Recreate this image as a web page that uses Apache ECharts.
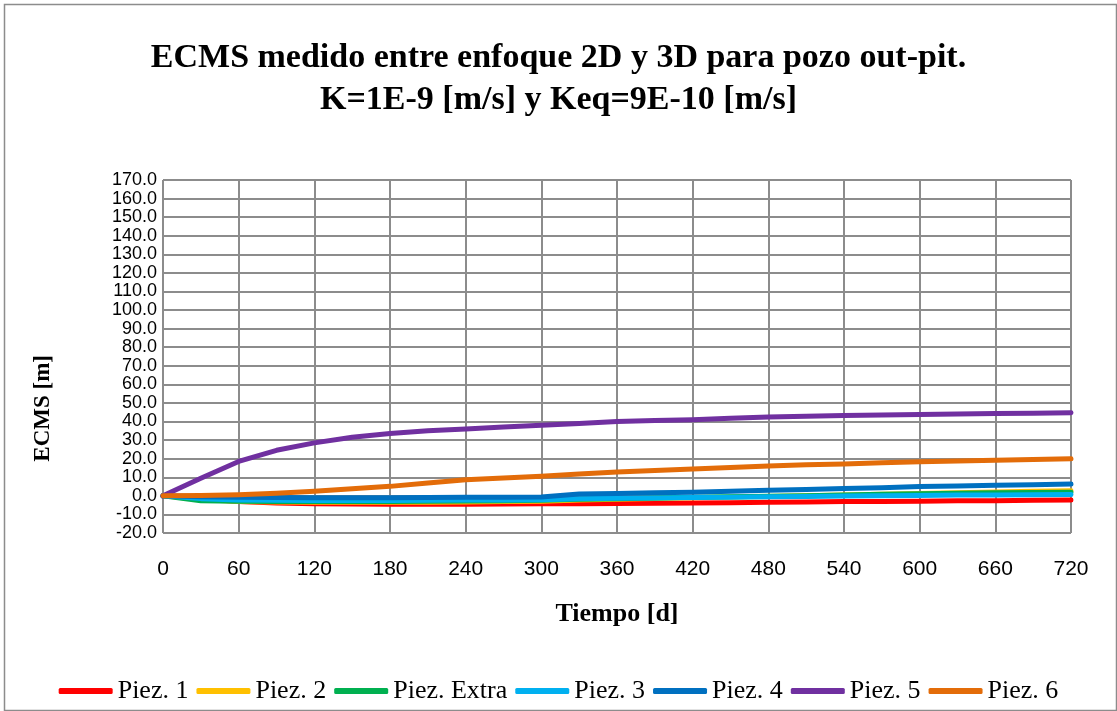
<!DOCTYPE html>
<html>
<head>
<meta charset="utf-8">
<script src="https://cdn.jsdelivr.net/npm/echarts@6/dist/echarts.min.js"></script>
<style>
  html, body { margin: 0; padding: 0; background: #fff; }
  #chart { width: 1117px; height: 711px; }
</style>
</head>
<body>
<div id="chart"></div>
<script>
// dias de simulacion
const dias = [0, 30, 60, 90, 120, 150, 180, 210, 240, 270, 300, 330, 360, 390, 420, 450, 480, 510, 540, 570, 600, 630, 660, 690, 720]

const piez1 = [0, -1.5, -3.0, -3.8, -4.2, -4.4, -4.5, -4.5, -4.5, -4.4, -4.3, -4.2, -4.1, -4.0, -3.9, -3.7, -3.5, -3.3, -3.1, -3.0, -2.9, -2.7, -2.6, -2.4, -2.3]
const piez2 = [0, -2.0, -3.0, -3.3, -3.5, -3.5, -3.5, -3.4, -3.3, -3.1, -2.9, -2.2, -1.8, -1.4, -1.0, -0.6, -0.3, 0.1, 0.5, 0.9, 1.3, 1.7, 2.1, 2.5, 2.8]
const piezExtra = [0, -2.7, -2.9, -3.0, -3.0, -3.0, -3.0, -2.9, -2.8, -2.6, -2.4, -1.8, -1.5, -1.1, -0.8, -0.5, -0.2, 0.1, 0.4, 0.8, 1.1, 1.4, 1.6, 1.8, 2.0]
const piez3 = [0, -1.5, -2.2, -2.4, -2.5, -2.5, -2.5, -2.4, -2.3, -2.2, -2.1, -1.5, -1.3, -1.1, -0.9, -0.7, -0.5, -0.3, -0.1, 0.1, 0.2, 0.4, 0.5, 0.6, 0.7]
const piez4 = [0, -0.5, -0.8, -0.9, -1.0, -1.0, -1.0, -0.9, -0.8, -0.7, -0.6, 1.0, 1.3, 1.7, 2.0, 2.5, 3.0, 3.4, 3.9, 4.4, 5.0, 5.3, 5.7, 6.0, 6.4]
const piez5 = [0, 9.5, 18.5, 24.5, 28.5, 31.5, 33.5, 35.0, 36.0, 37.0, 38.0, 39.0, 40.0, 40.5, 41.0, 41.8, 42.4, 42.8, 43.2, 43.5, 43.8, 44.0, 44.3, 44.5, 44.7]
const piez6 = [0, 0.2, 0.6, 1.4, 2.5, 3.8, 5.1, 6.9, 8.7, 9.6, 10.5, 11.7, 12.8, 13.7, 14.5, 15.3, 16.1, 16.7, 17.2, 17.8, 18.3, 18.7, 19.1, 19.5, 19.9]

const nombres = ['Piez. 1', 'Piez. 2', 'Piez. Extra', 'Piez. 3', 'Piez. 4', 'Piez. 5', 'Piez. 6']
const valores = [piez1, piez2, piezExtra, piez3, piez4, piez5, piez6]
const colores = ['#ff0000', '#ffc000', '#00b050', '#00b0f0', '#0070c0', '#7030a0', '#e36c09']

const serif = '"Liberation Serif", "Times New Roman", serif'
const sans = '"Liberation Sans", Arial, sans-serif'

const chart = echarts.init(document.getElementById('chart'))

const series = nombres.map((n, i) => ({
  name: n,
  type: 'line',
  showSymbol: false,
  symbol: 'none',
  lineStyle: { width: 5, color: colores[i], cap: 'round', join: 'round' },
  itemStyle: { color: colores[i] },
  data: dias.map((d, j) => [d, valores[i][j]])
}))

chart.setOption({
  animation: false,
  backgroundColor: '#fff',
  title: {
    text: 'ECMS medido entre enfoque 2D y 3D para pozo out-pit.\nK=1E-9 [m/s] y Keq=9E-10 [m/s]',
    left: 'center',
    top: 32,
    textStyle: { fontFamily: serif, fontWeight: 'bold', fontSize: 34, lineHeight: 42, color: '#000' }
  },
  legend: {
    top: 673,
    left: 'center',
    itemWidth: 54,
    itemHeight: 6,
    itemGap: 8,
    icon: 'roundRect',
    textStyle: { fontFamily: serif, fontSize: 26, color: '#000' },
    data: nombres
  },
  grid: { left: 163, right: 46, top: 180, bottom: 178, containLabel: false },
  xAxis: {
    type: 'value',
    min: 0,
    max: 720,
    interval: 60,
    name: 'Tiempo [d]',
    nameLocation: 'middle',
    nameGap: 68,
    nameTextStyle: { fontFamily: serif, fontWeight: 'bold', fontSize: 26, color: '#000' },
    axisLine: { show: false },
    axisTick: { show: false },
    axisLabel: { fontFamily: sans, fontSize: 21, color: '#000', margin: 26 },
    splitLine: { show: true, lineStyle: { color: '#8c8c8c', width: 2 } }
  },
  yAxis: {
    type: 'value',
    min: -20,
    max: 170,
    interval: 10,
    axisLine: { show: false },
    axisTick: { show: false },
    axisLabel: {
      fontFamily: sans, fontSize: 18, color: '#000', margin: 6,
      formatter: v => v.toFixed(1)
    },
    splitLine: { show: true, lineStyle: { color: '#8c8c8c', width: 2 } }
  },
  graphic: [
    {
      type: 'rect',
      left: 2, top: 2,
      shape: { width: 1112, height: 706 },
      style: { fill: 'none', stroke: '#8c8c8c', lineWidth: 1.5 },
      silent: true
    },
    {
      type: 'text',
      left: 32,
      top: 355,
      rotation: Math.PI / 2,
      style: { text: 'ECMS [m]', font: 'bold 23px ' + serif, fill: '#000' }
    }
  ],
  series: series
})
</script>
</body>
</html>
